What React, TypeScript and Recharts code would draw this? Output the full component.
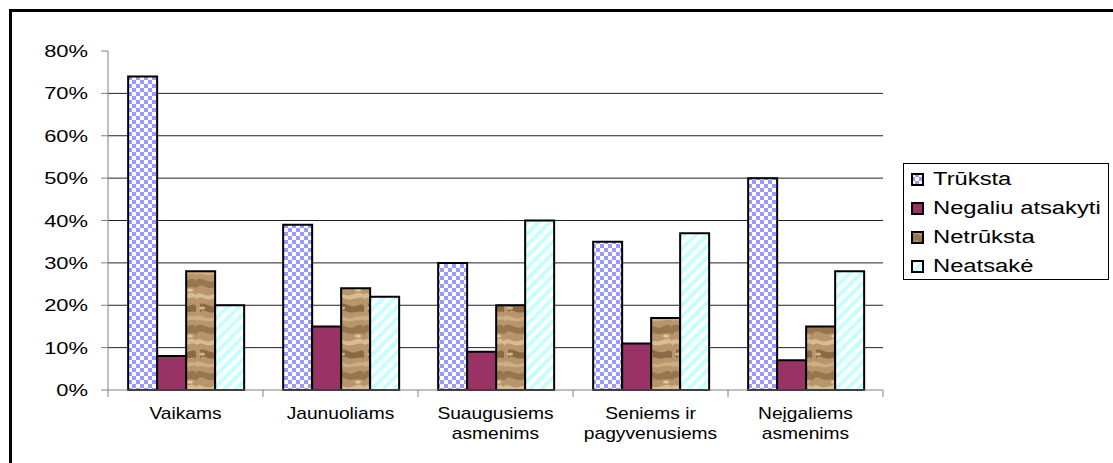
import React from 'react';
import { BarChart, Bar, XAxis, YAxis, CartesianGrid } from 'recharts';

const categories = ['Vaikams', 'Jaunuoliams', 'Suaugusiems\nasmenims', 'Seniems ir\npagyvenusiems', 'Neįgaliems\nasmenims'];
const seriesNames = ['Trūksta', 'Negaliu atsakyti', 'Netrūksta', 'Neatsakė'];
const trukstaValues = [74, 39, 30, 35, 50];
const negaliuValues = [8, 15, 9, 11, 7];
const netrukstaValues = [28, 24, 20, 17, 15];
const neatsakeValues = [20, 22, 40, 37, 28];
const yTicks = [0, 10, 20, 30, 40, 50, 60, 70, 80];
const gridValues = [10, 20, 30, 40, 50, 60, 70];

const seriesKeys = ['trueksta', 'negaliu', 'netruksta', 'neatsake'];
const seriesFills = ['url(#chk)', '#993366', 'url(#sand)', 'url(#stripes)'];

const data = categories.map((name, i) => ({
    name,
    trueksta: trukstaValues[i],
    negaliu: negaliuValues[i],
    netruksta: netrukstaValues[i],
    neatsake: neatsakeValues[i],
}));

const FONT = "'Liberation Sans', Arial, sans-serif";

const YTick = (props: any) => {
    const { x, y, payload } = props;
    return (
        <text x={0} y={0} transform={`translate(${x},${y}) scale(1.29,1)`} textAnchor="end" dominantBaseline="central"
            fontSize={17} fill="#000" fontFamily={FONT}>
            {payload.value}%
        </text>
    );
};

const XTick = (props: any) => {
    const { x, y, payload, index, visibleTicksCount } = props;
    const half = payload.offset || 77.5;
    const lines = String(payload.value).split('\n');
    return (
        <g>
            <line x1={x - half} x2={x - half} y1={y - 7} y2={y} stroke="#808080" />
            {index === visibleTicksCount - 1 && <line x1={x + half} x2={x + half} y1={y - 7} y2={y} stroke="#808080" />}
            <text x={0} y={0} transform={`translate(${x},${y}) scale(1.2,1)`} textAnchor="middle" fontSize={16} fill="#000" fontFamily={FONT}>
                {lines.map((l, i) => <tspan key={i} x={0} y={22 + i * 20}>{l}</tspan>)}
            </text>
        </g>
    );
};

// textures roughly like the old office fills
const Patterns = () => (
    <defs>
        <pattern id="chk" patternUnits="userSpaceOnUse" width={8} height={8}>
            <rect width={8} height={8} fill="#9999FF" />
            <rect x={0} y={0} width={4} height={4} fill="#fff" />
            <rect x={4} y={4} width={4} height={4} fill="#fff" />
        </pattern>
        <pattern id="stripes" patternUnits="userSpaceOnUse" width={8} height={8} patternTransform="rotate(45)">
            <rect width={8} height={8} fill="#fff" />
            <rect x={0} y={0} width={4} height={8} fill="#C6FFFF" />
        </pattern>
        <pattern id="sand" patternUnits="userSpaceOnUse" width={28} height={46}>
            <rect width={28} height={46} fill="#B8956A" />
            <path d="M0 4 C6 0 12 8 18 5 S26 2 28 6 L28 12 C22 9 16 14 10 11 S2 10 0 13 Z" fill="#8F6E48" opacity={0.8} />
            <path d="M0 18 C5 15 9 21 15 19 S24 15 28 19 L28 22 C22 20 16 25 10 23 S3 21 0 24 Z" fill="#D7BD94" />
            <path d="M4 28 C10 26 14 32 20 30 S26 28 28 30 L28 36 C22 34 18 38 12 36 S6 34 4 37 Z" fill="#7A5A38" opacity={0.75} />
            <path d="M0 40 C6 38 10 44 16 42 S24 39 28 41 L28 44 C22 43 16 46 10 45 S3 44 0 45 Z" fill="#CDAF84" />
            <ellipse cx={22} cy={14} rx={3} ry={1.5} fill="#E0C9A2" />
            <ellipse cx={6} cy={32} rx={3} ry={1.5} fill="#D2B58B" />
        </pattern>
    </defs>
);

const LegendBox = () => (
    <div style={{
        position: 'absolute', left: 903, top: 163, width: 206, height: 117, boxSizing: 'border-box',
        border: '1px solid #000', background: '#fff', paddingTop: 1, fontFamily: FONT,
    }}>
        {seriesNames.map((n, i) => (
            <div key={n} style={{ height: 29, display: 'flex', alignItems: 'center' }}>
                <svg width={13} height={13} style={{ marginLeft: 7, flex: 'none' }}>
                    <rect x={1} y={1} width={11} height={11} fill={seriesFills[i]} stroke="#000" strokeWidth={2} />
                </svg>
                <span style={{
                    marginLeft: 9, fontSize: 18, color: '#000', display: 'inline-block', whiteSpace: 'nowrap',
                    transform: 'scale(1.32,1)', transformOrigin: 'left center',
                }}>{n}</span>
            </div>
        ))}
    </div>
);

export default function App() {
    return (
        <div style={{ position: 'absolute', left: 0, top: 0, width: 1113, height: 463, overflow: 'hidden', background: '#fff' }}>
            <div style={{
                position: 'absolute', left: 9, top: 9, width: 1300, height: 700,
                borderLeft: '3px solid #000', borderTop: '3px solid #000',
            }} />
            <BarChart width={1113} height={463} data={data} barCategoryGap="13%" barGap={0}
                margin={{ top: 51, right: 230, bottom: 13, left: 48 }} style={{ position: 'absolute', left: 0, top: 0 }}>
                <Patterns />
                <CartesianGrid vertical={false} stroke="#222" horizontalValues={gridValues} />
                <XAxis dataKey="name" height={60} axisLine={{ stroke: '#808080' }} tickLine={false} tickSize={7}
                    tickMargin={0} interval={0} tick={<XTick />} />
                <YAxis width={60} domain={[0, 80]} ticks={yTicks} interval={0} axisLine={{ stroke: '#808080' }}
                    tickLine={{ stroke: '#808080' }} tickSize={7} tickMargin={13} tick={<YTick />} />
                {seriesKeys.map((k, i) => (
                    <Bar key={k} dataKey={k} name={seriesNames[i]} fill={seriesFills[i]} stroke="#000" strokeWidth={2}
                        isAnimationActive={false} />
                ))}
            </BarChart>
            <LegendBox />
        </div>
    );
}
